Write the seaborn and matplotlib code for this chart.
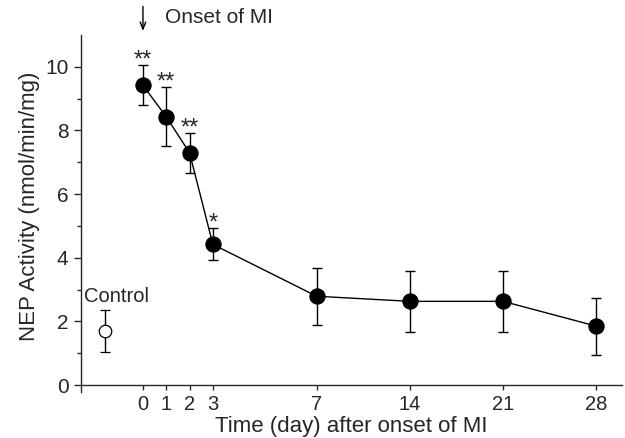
import numpy as np
import pandas as pd
import matplotlib
matplotlib.use("Agg")
import matplotlib.pyplot as plt
import seaborn as sns

days = ["0", "1", "2", "3", "7", "14", "21", "28"]
nep = [9.42, 8.43, 7.30, 4.42, 2.79, 2.63, 2.63, 1.85]
nep_err = [0.63, 0.93, 0.63, 0.50, 0.90, 0.95, 0.95, 0.90]
stars = ["**", "**", "**", "*", "", "", "", ""]
control_value = 1.69
control_err = 0.66

# broken time axis: days 0-3 spread out, then weekly steps
x_pos = [0, 1, 2, 3, 7.46, 11.46, 15.46, 19.46]
control_pos = -1.63

df = pd.DataFrame({"day": days, "pos": x_pos, "nep": nep, "err": nep_err})

sns.set_style("ticks")
plt.rcParams["font.family"] = ["Liberation Sans", "DejaVu Sans"]

fig = plt.figure(figsize=(6.25, 4.38), dpi=100)
ax = fig.add_axes([0.1296, 0.105, 0.8654, 0.815])

ax.errorbar(df["pos"], df["nep"], yerr=df["err"], fmt="none", ecolor="black",
            elinewidth=1.0, capsize=3.5, capthick=1.0, zorder=2)
sns.lineplot(data=df, x="pos", y="nep", ax=ax, color="black", linewidth=1.0,
             marker="o", markersize=11, markerfacecolor="black",
             markeredgecolor="black", zorder=3)

ax.errorbar([control_pos], [control_value], yerr=[control_err], fmt="o",
            color="black", markersize=9, markerfacecolor="white",
            markeredgecolor="black", markeredgewidth=0.9, elinewidth=1.0,
            capsize=3.5, capthick=1.0, zorder=3)
ax.text(control_pos + 0.5, control_value + control_err + 0.12, "Control",
        ha="center", va="bottom", fontsize=14.5)

for p, v, e, s in zip(x_pos, nep, nep_err, stars):
    if s:
        ax.annotate(s, (p, v + e), xytext=(0, -1), textcoords="offset points",
                    ha="center", va="baseline", fontsize=17)

ax.annotate("", xy=(0, 11.13), xytext=(0, 11.9), xycoords="data",
            arrowprops=dict(arrowstyle="->,head_length=0.5,head_width=0.2",
                            color="black", lw=1.0, shrinkA=0, shrinkB=0),
            annotation_clip=False)
ax.text(0.95, 11.55, "Onset of MI", ha="left", va="center", fontsize=15,
        clip_on=False)

ax.set_xlim(-2.66, 20.56)
ax.set_ylim(-0.22, 11)
ax.spines["bottom"].set_position(("data", 0))
ax.set_xticks(x_pos)
ax.set_xticklabels(days)
ax.set_yticks([0, 2, 4, 6, 8, 10])
ax.set_yticks([1, 3, 5, 7, 9], minor=True)
ax.tick_params(axis="y", which="major", labelsize=15, length=5, width=1,
               direction="out", pad=4)
ax.tick_params(axis="y", which="minor", length=3, width=1, direction="out")
ax.tick_params(axis="x", which="major", labelsize=14.5, length=3.5, width=1,
               direction="out", pad=4)
ax.set_xlabel("Time (day) after onset of MI", fontsize=16, labelpad=1)
ax.set_ylabel("NEP Activity (nmol/min/mg)", fontsize=16)
ax.yaxis.set_label_coords(-0.075, 0.52)

for side in ["top", "right"]:
    ax.spines[side].set_visible(False)
for side in ["left", "bottom"]:
    ax.spines[side].set_linewidth(1.0)

fig.savefig("out.png", dpi=100)
